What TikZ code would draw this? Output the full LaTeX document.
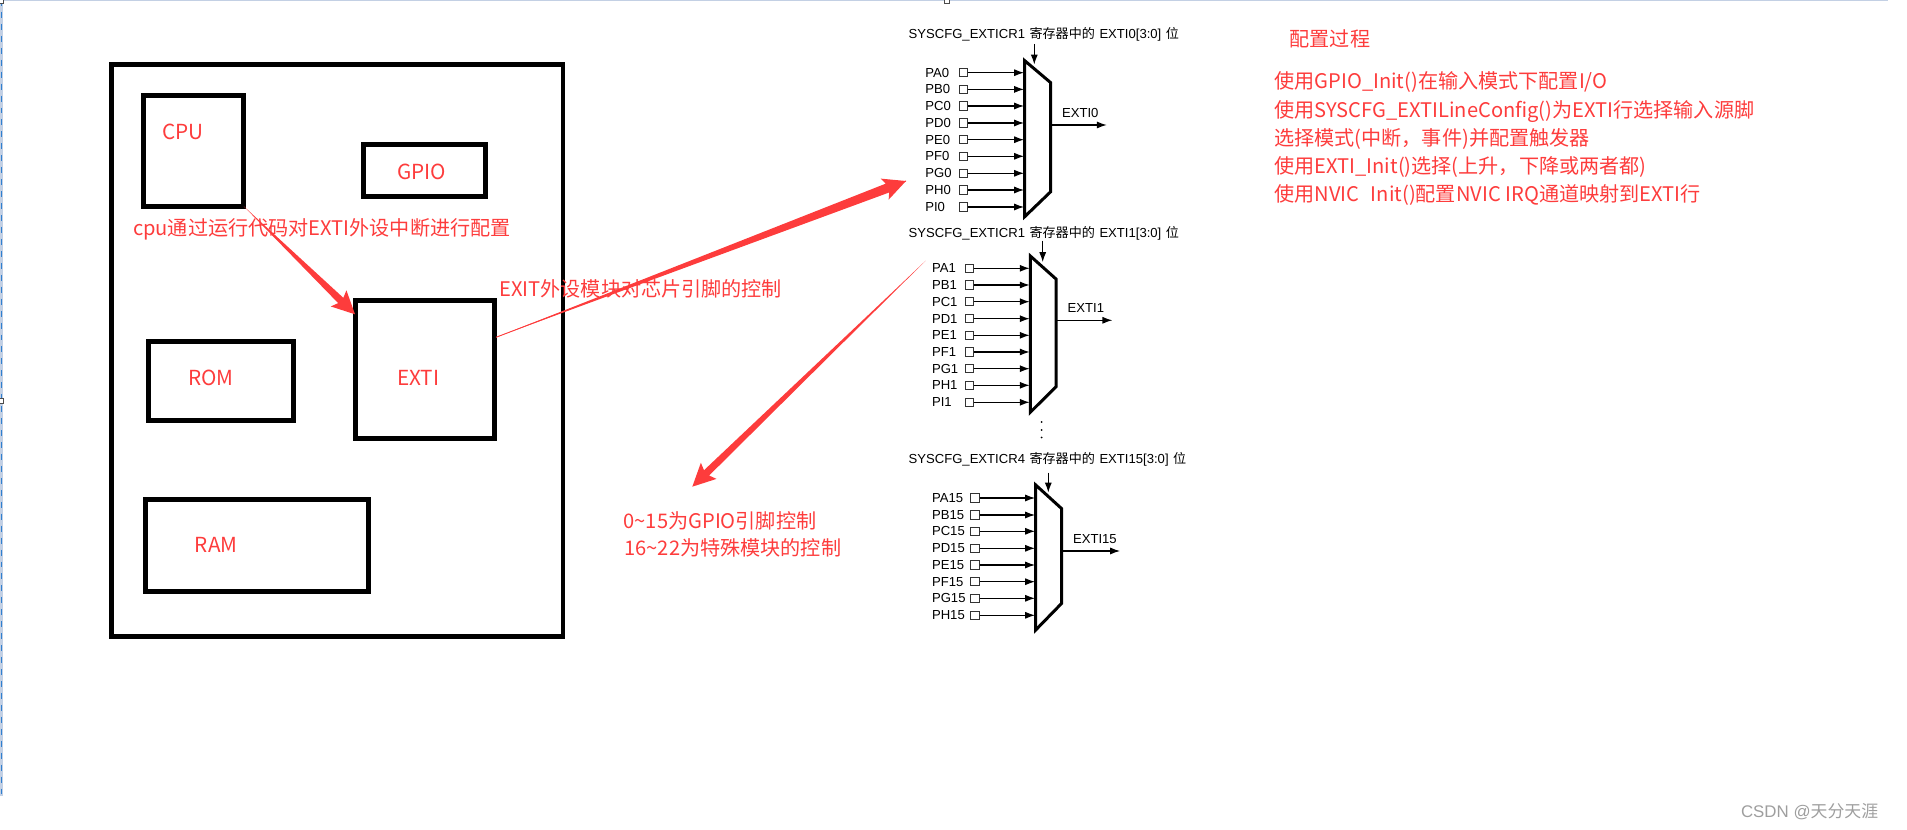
\documentclass[tikz,border=0pt]{standalone}
\usepackage{fontspec}
\setmainfont{Liberation Sans}
\newfontfamily\cjkfont{Noto Sans CJK SC}
\usetikzlibrary{arrows.meta,calc}
\definecolor{notered}{HTML}{FD3C3C}
\definecolor{framedash}{HTML}{2F7FD0}
\definecolor{frameline}{HTML}{C3D0E4}
\newcommand{\taperarrow}[3]{\fill[notered] (#1)--($(#2)!11.3pt!(#1)!#3!90:(#2)$)--($(#2)!13pt!(#1)!6.4pt!90:(#2)$)--(#2)--($(#2)!13pt!(#1)!6.4pt!-90:(#2)$)--($(#2)!11.3pt!(#1)!#3!-90:(#2)$)--cycle;}
\begin{document}
\begin{tikzpicture}[x=.02cm,y=-.02cm,
blockbox/.style={draw,line width=2.7pt,inner sep=0pt,outer sep=0pt},
handlebox/.style={draw=black!70,fill=white,line width=.5pt,minimum size=2.4pt,inner sep=0pt},
redtext/.style={font=\cjkfont\fontsize{11.45}{13}\selectfont,text=notered,inner sep=0pt,anchor=west,yshift=-.8pt},
blocktext/.style={font=\cjkfont\fontsize{11.8}{13}\selectfont,text=notered,inner sep=0pt},
titletext/.style={font=\fontsize{7.45}{9}\selectfont,inner sep=0pt,anchor=west},
pinlabel/.style={font=\fontsize{7.45}{9}\selectfont,inner sep=0pt,anchor=west},
pinbox/.style={draw=black!80,line width=.6pt,minimum size=4.6pt,inner sep=0pt},
muxline/.style={line width=1.7pt,line join=miter},
wirearrow/.style={line width=.6pt,-{Latex[length=5.6pt,width=4pt]}}]
\useasboundingbox (0,0) rectangle (1907,830);
\coordinate (ft0) at (0,0.6);
\coordinate (ft1) at (1888,0.6);
\coordinate (fl0) at (1.5,0);
\coordinate (fl1) at (1.5,796);
\draw[frameline,line width=.7pt] (ft0)--(ft1);
\draw[frameline,line width=1.2pt] (fl0)--(fl1);
\draw[framedash,line width=.6pt,dash pattern=on 3.4pt off 3.4pt] (fl0)--(fl1);
\node[handlebox] (h0) at (1.5,1.5) {};
\node[handlebox] (h1) at (1.5,401) {};
\node[handlebox] (h2) at (947,1.5) {};
\node[blockbox,minimum width=9.03cm,minimum height=11.44cm] (chip) at (337.2,350.3) {};
\node[blockbox,minimum width=2.01cm,minimum height=2.22cm] (cpu) at (193.5,150.8) {};
\node[blockbox,minimum width=2.45cm,minimum height=1.04cm] (gpio) at (424.5,170.7) {};
\node[blockbox,minimum width=2.91cm,minimum height=1.59cm] (rom) at (221,381) {};
\node[blockbox,minimum width=2.79cm,minimum height=2.77cm] (exti) at (425,369.5) {};
\node[blockbox,minimum width=4.46cm,minimum height=1.85cm] (ram) at (257,545.5) {};
\node[blocktext] (cpulabel) at (183,131.7) {CPU};
\node[blocktext] (gpiolabel) at (421.7,172.3) {GPIO};
\node[blocktext] (romlabel) at (211,377.7) {ROM};
\node[blocktext] (extilabel) at (418.3,377.7) {EXTI};
\node[blocktext] (ramlabel) at (216.2,545) {RAM};
\node[redtext] (note0) at (132.7,228.3) {cpu通过运行代码对EXTI外设中断进行配置};
\node[redtext] (note1) at (499,287.3) {EXIT外设模块对芯片引脚的控制};
\node[redtext] (note2) at (623.3,519) {0\textasciitilde15为GPIO引脚控制};
\node[redtext] (note3) at (624,546.7) {16\textasciitilde22为特殊模块的控制};
\node[redtext] (steps) at (1289.3,37.3) {配置过程};
\node[redtext] (step0) at (1274,81) {使用GPIO\_Init()在输入模式下配置I/O};
\node[redtext] (step1) at (1274,110) {使用SYSCFG\_EXTILineConfig()为EXTI行选择输入源脚};
\node[redtext] (step2) at (1274,137.7) {选择模式(中断，事件)并配置触发器};
\node[redtext] (step3) at (1274,165.7) {使用EXTI\_Init()选择(上升，下降或两者都)};
\node[redtext] (step4) at (1274,193.3) {使用NVIC\hspace{4pt} Init()配置NVIC IRQ通道映射到EXTI行};
\coordinate (a0) at (355,314.3);
\coordinate (t1) at (496,337.3);
\coordinate (a1) at (906,181);
\coordinate (t2) at (925.7,260.7);
\coordinate (a2) at (692.3,486.7);
\taperarrow{cpu.south east}{a0}{2.1pt}
\draw[notered,line width=.5pt] (t1)--(a1);
\taperarrow{t1}{a1}{2.7pt}
\taperarrow{t2}{a2}{2.1pt}
\node[titletext] (title0) at (908.3,34) {SYSCFG\_EXTICR1\hspace{.5pt} {\cjkfont 寄存器中的}\hspace{.5pt} EXTI0[3:0]\hspace{.5pt} {\cjkfont 位}};
\coordinate (m0a) at (1024.7,60.7);
\coordinate (m0b) at (1050.7,82.7);
\coordinate (m0c) at (1050.7,191.7);
\coordinate (m0d) at (1024.7,216.7);
\draw[muxline] (m0a)--(m0b)--(m0c)--(m0d)--cycle;
\coordinate (s0) at (1034.3,44);
\coordinate (se0) at (1034.3,64.5);
\draw[wirearrow] (s0)--(se0);
\coordinate (o0) at (1050.7,125);
\coordinate (oe0) at (1106.7,125);
\draw[wirearrow] (o0)--(oe0);
\node[pinlabel] (out0) at (1061.7,113) {EXTI0};
\node[pinlabel] (l0a) at (925,72.7) {PA0};\node[pinbox] (p0a) at (963.7,72.7) {};\coordinate (e0a) at (1024,72.7);\draw[wirearrow] (p0a)--(e0a);
\node[pinlabel] (l0b) at (925,89.4) {PB0};\node[pinbox] (p0b) at (963.7,89.4) {};\coordinate (e0b) at (1024,89.4);\draw[wirearrow] (p0b)--(e0b);
\node[pinlabel] (l0c) at (925,106) {PC0};\node[pinbox] (p0c) at (963.7,106) {};\coordinate (e0c) at (1024,106);\draw[wirearrow] (p0c)--(e0c);
\node[pinlabel] (l0d) at (925,123) {PD0};\node[pinbox] (p0d) at (963.7,123) {};\coordinate (e0d) at (1024,123);\draw[wirearrow] (p0d)--(e0d);
\node[pinlabel] (l0e) at (925,139.7) {PE0};\node[pinbox] (p0e) at (963.7,139.7) {};\coordinate (e0e) at (1024,139.7);\draw[wirearrow] (p0e)--(e0e);
\node[pinlabel] (l0f) at (925,156.3) {PF0};\node[pinbox] (p0f) at (963.7,156.3) {};\coordinate (e0f) at (1024,156.3);\draw[wirearrow] (p0f)--(e0f);
\node[pinlabel] (l0g) at (925,173.3) {PG0};\node[pinbox] (p0g) at (963.7,173.3) {};\coordinate (e0g) at (1024,173.3);\draw[wirearrow] (p0g)--(e0g);
\node[pinlabel] (l0h) at (925,190) {PH0};\node[pinbox] (p0h) at (963.7,190) {};\coordinate (e0h) at (1024,190);\draw[wirearrow] (p0h)--(e0h);
\node[pinlabel] (l0i) at (925,207) {PI0};\node[pinbox] (p0i) at (963.7,207) {};\coordinate (e0i) at (1024,207);\draw[wirearrow] (p0i)--(e0i);
\node[titletext] (title1) at (908.3,233.3) {SYSCFG\_EXTICR1\hspace{.5pt} {\cjkfont 寄存器中的}\hspace{.5pt} EXTI1[3:0]\hspace{.5pt} {\cjkfont 位}};
\coordinate (m1a) at (1030.3,256);
\coordinate (m1b) at (1056,279);
\coordinate (m1c) at (1056,386.7);
\coordinate (m1d) at (1030.3,412.3);
\draw[muxline] (m1a)--(m1b)--(m1c)--(m1d)--cycle;
\coordinate (s1) at (1042.7,240.7);
\coordinate (se1) at (1042.7,262);
\draw[wirearrow] (s1)--(se1);
\coordinate (o1) at (1056,320.3);
\coordinate (oe1) at (1112.3,320.3);
\draw[wirearrow] (o1)--(oe1);
\node[pinlabel] (out1) at (1067.3,308.3) {EXTI1};
\node[pinlabel] (l1a) at (931.7,268.3) {PA1};\node[pinbox] (p1a) at (969.3,268.3) {};\coordinate (e1a) at (1029.6,268.3);\draw[wirearrow] (p1a)--(e1a);
\node[pinlabel] (l1b) at (931.7,285) {PB1};\node[pinbox] (p1b) at (969.3,285) {};\coordinate (e1b) at (1029.6,285);\draw[wirearrow] (p1b)--(e1b);
\node[pinlabel] (l1c) at (931.7,301.7) {PC1};\node[pinbox] (p1c) at (969.3,301.7) {};\coordinate (e1c) at (1029.6,301.7);\draw[wirearrow] (p1c)--(e1c);
\node[pinlabel] (l1d) at (931.7,318.7) {PD1};\node[pinbox] (p1d) at (969.3,318.7) {};\coordinate (e1d) at (1029.6,318.7);\draw[wirearrow] (p1d)--(e1d);
\node[pinlabel] (l1e) at (931.7,335.3) {PE1};\node[pinbox] (p1e) at (969.3,335.3) {};\coordinate (e1e) at (1029.6,335.3);\draw[wirearrow] (p1e)--(e1e);
\node[pinlabel] (l1f) at (931.7,352) {PF1};\node[pinbox] (p1f) at (969.3,352) {};\coordinate (e1f) at (1029.6,352);\draw[wirearrow] (p1f)--(e1f);
\node[pinlabel] (l1g) at (931.7,368.7) {PG1};\node[pinbox] (p1g) at (969.3,368.7) {};\coordinate (e1g) at (1029.6,368.7);\draw[wirearrow] (p1g)--(e1g);
\node[pinlabel] (l1h) at (931.7,385.3) {PH1};\node[pinbox] (p1h) at (969.3,385.3) {};\coordinate (e1h) at (1029.6,385.3);\draw[wirearrow] (p1h)--(e1h);
\node[pinlabel] (l1i) at (931.7,402.3) {PI1};\node[pinbox] (p1i) at (969.3,402.3) {};\coordinate (e1i) at (1029.6,402.3);\draw[wirearrow] (p1i)--(e1i);
\fill (1041.7,422) circle (.55pt);
\fill (1041.7,430) circle (.55pt);
\fill (1041.7,437.5) circle (.55pt);
\node[titletext] (title2) at (908.3,459) {SYSCFG\_EXTICR4\hspace{.5pt} {\cjkfont 寄存器中的}\hspace{.5pt} EXTI15[3:0]\hspace{.5pt} {\cjkfont 位}};
\coordinate (m2a) at (1035.7,485);
\coordinate (m2b) at (1061.7,508.7);
\coordinate (m2c) at (1061.7,603.3);
\coordinate (m2d) at (1035.7,630);
\draw[muxline] (m2a)--(m2b)--(m2c)--(m2d)--cycle;
\coordinate (s2) at (1048.3,472.7);
\coordinate (se2) at (1048.3,492.5);
\draw[wirearrow] (s2)--(se2);
\coordinate (o2) at (1061.7,551);
\coordinate (oe2) at (1120,551);
\draw[wirearrow] (o2)--(oe2);
\node[pinlabel] (out2) at (1072.7,539.3) {EXTI15};
\node[pinlabel] (l2a) at (931.7,498) {PA15};\node[pinbox] (p2a) at (975,498) {};\coordinate (e2a) at (1035,498);\draw[wirearrow] (p2a)--(e2a);
\node[pinlabel] (l2b) at (931.7,515) {PB15};\node[pinbox] (p2b) at (975,515) {};\coordinate (e2b) at (1035,515);\draw[wirearrow] (p2b)--(e2b);
\node[pinlabel] (l2c) at (931.7,531.3) {PC15};\node[pinbox] (p2c) at (975,531.3) {};\coordinate (e2c) at (1035,531.3);\draw[wirearrow] (p2c)--(e2c);
\node[pinlabel] (l2d) at (931.7,548.3) {PD15};\node[pinbox] (p2d) at (975,548.3) {};\coordinate (e2d) at (1035,548.3);\draw[wirearrow] (p2d)--(e2d);
\node[pinlabel] (l2e) at (931.7,565) {PE15};\node[pinbox] (p2e) at (975,565) {};\coordinate (e2e) at (1035,565);\draw[wirearrow] (p2e)--(e2e);
\node[pinlabel] (l2f) at (931.7,581.7) {PF15};\node[pinbox] (p2f) at (975,581.7) {};\coordinate (e2f) at (1035,581.7);\draw[wirearrow] (p2f)--(e2f);
\node[pinlabel] (l2g) at (931.7,598.3) {PG15};\node[pinbox] (p2g) at (975,598.3) {};\coordinate (e2g) at (1035,598.3);\draw[wirearrow] (p2g)--(e2g);
\node[pinlabel] (l2h) at (931.7,615.3) {PH15};\node[pinbox] (p2h) at (975,615.3) {};\coordinate (e2h) at (1035,615.3);\draw[wirearrow] (p2h)--(e2h);
\node[inner sep=0pt,anchor=west,text=black!38,font=\fontsize{9.6}{11}\selectfont] (mark) at (1740.7,811.7) {CSDN @{\cjkfont 天分天涯}};
\end{tikzpicture}
\end{document}
